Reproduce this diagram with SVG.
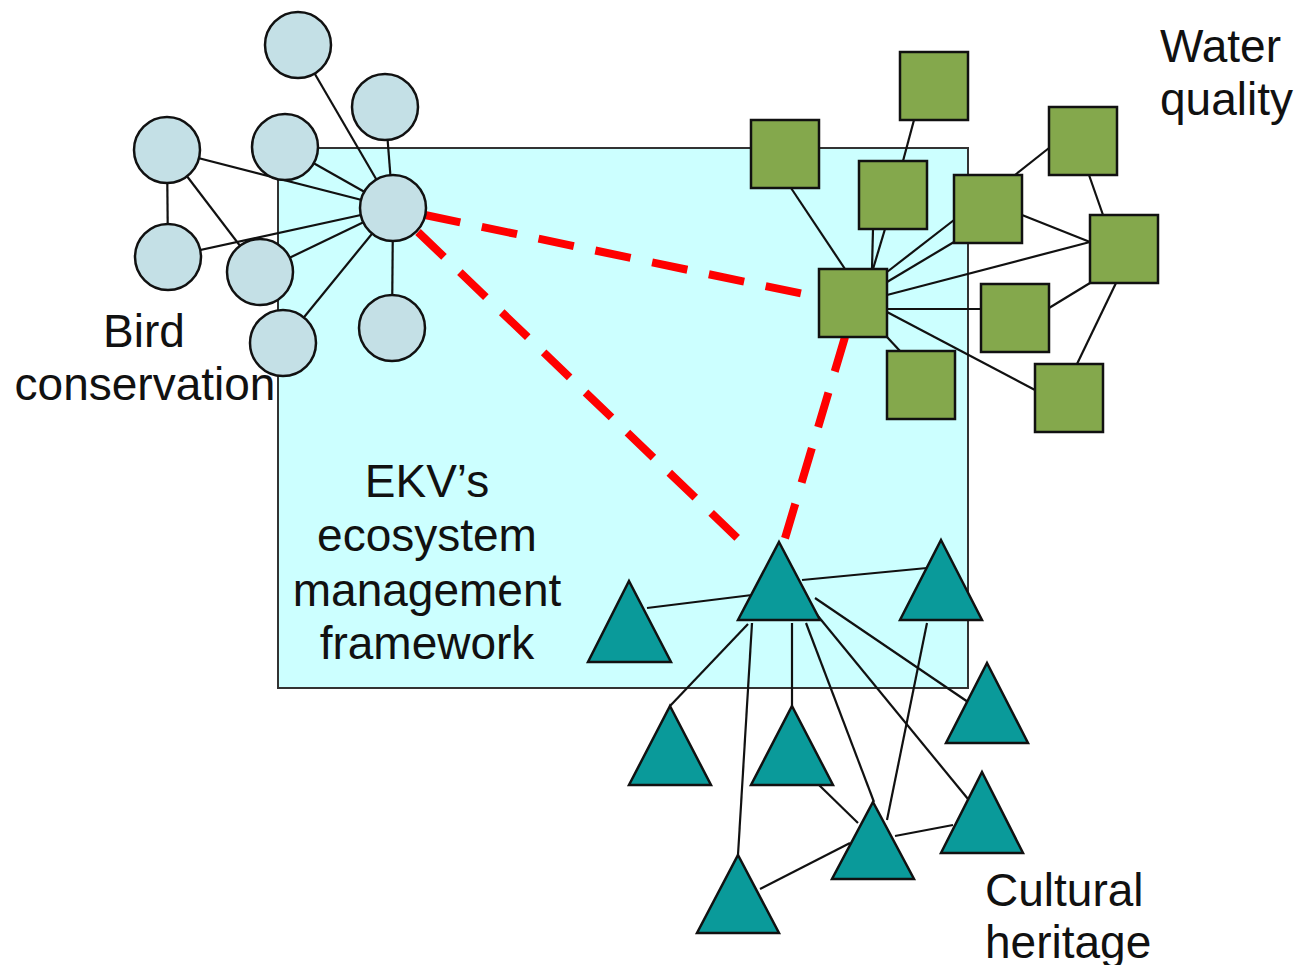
<svg xmlns="http://www.w3.org/2000/svg" width="1307" height="965" viewBox="0 0 1307 965">
<style>
.edge{stroke:#111;stroke-width:2.2;fill:none}
.dash{stroke:#ff0000;stroke-width:8;stroke-dasharray:36 22;fill:none}
.bird{fill:#c4e0e6;stroke:#111;stroke-width:2.5}
.water{fill:#84a84c;stroke:#111;stroke-width:2.5}
.cult{fill:#0a9a9a;stroke:#111;stroke-width:2.5}
.lbl{font-family:"Liberation Sans",Arial,sans-serif;font-size:46px;fill:#111}
</style>
<rect width="1307" height="965" fill="#ffffff"/>
<g id="framework">
<rect x="278" y="148" width="690" height="540" fill="#ccffff" stroke="#333" stroke-width="2"/>
<text class="lbl" text-anchor="middle" x="427" y="497">EKV’s</text>
<text class="lbl" text-anchor="middle" x="427" y="551">ecosystem</text>
<text class="lbl" text-anchor="middle" x="427" y="606">management</text>
<text class="lbl" text-anchor="middle" x="427" y="659">framework</text>
</g>
<g id="connectors">
<line class="edge" x1="298" y1="45" x2="393" y2="208"/>
<line class="edge" x1="385" y1="107" x2="393" y2="208"/>
<line class="edge" x1="167" y1="150" x2="393" y2="208"/>
<line class="edge" x1="285" y1="147" x2="393" y2="208"/>
<line class="edge" x1="167" y1="150" x2="168" y2="257"/>
<line class="edge" x1="167" y1="150" x2="260" y2="272"/>
<line class="edge" x1="168" y1="257" x2="393" y2="208"/>
<line class="edge" x1="260" y1="272" x2="393" y2="208"/>
<line class="edge" x1="283" y1="343" x2="393" y2="208"/>
<line class="edge" x1="392" y1="328" x2="393" y2="208"/>
<line class="edge" x1="791" y1="188" x2="845" y2="269"/>
<line class="edge" x1="914" y1="120" x2="903" y2="161"/>
<line class="edge" x1="873" y1="229" x2="872" y2="269"/>
<line class="edge" x1="885" y1="229" x2="873" y2="269"/>
<line class="edge" x1="954" y1="220" x2="887" y2="272"/>
<line class="edge" x1="954" y1="242" x2="887" y2="282"/>
<line class="edge" x1="1015" y1="175" x2="1049" y2="148"/>
<line class="edge" x1="1022" y1="215" x2="1090" y2="242"/>
<line class="edge" x1="1089" y1="175" x2="1103" y2="215"/>
<line class="edge" x1="887" y1="295" x2="1090" y2="242"/>
<line class="edge" x1="887" y1="309" x2="981" y2="309"/>
<line class="edge" x1="1049" y1="308" x2="1090" y2="283"/>
<line class="edge" x1="1116" y1="283" x2="1077" y2="364"/>
<line class="edge" x1="887" y1="337" x2="900" y2="351"/>
<line class="edge" x1="887" y1="312" x2="1035" y2="390"/>
<line class="edge" x1="647" y1="608" x2="752" y2="595"/>
<line class="edge" x1="802" y1="580" x2="927" y2="568"/>
<line class="edge" x1="748" y1="624" x2="670" y2="706"/>
<line class="edge" x1="752" y1="623" x2="738" y2="855"/>
<line class="edge" x1="792" y1="623" x2="792" y2="706"/>
<line class="edge" x1="806" y1="623" x2="874" y2="802"/>
<line class="edge" x1="813" y1="610" x2="968" y2="799"/>
<line class="edge" x1="815" y1="598" x2="968" y2="702"/>
<line class="edge" x1="927" y1="623" x2="887" y2="820"/>
<line class="edge" x1="819" y1="785" x2="858" y2="823"/>
<line class="edge" x1="895" y1="836" x2="953" y2="825"/>
<line class="edge" x1="760" y1="889" x2="850" y2="843"/>
<line class="dash" x1="425" y1="215" x2="818" y2="297"/>
<line class="dash" x1="418" y1="232" x2="752" y2="552"/>
<line class="dash" x1="845" y1="337" x2="783" y2="545"/>
</g>
<g id="bird-conservation">
<circle id="b1" class="bird" cx="298" cy="45" r="33"/>
<circle id="b2" class="bird" cx="385" cy="107" r="33"/>
<circle id="b3" class="bird" cx="167" cy="150" r="33"/>
<circle id="b4" class="bird" cx="285" cy="147" r="33"/>
<circle id="b5" class="bird" cx="393" cy="208" r="33"/>
<circle id="b6" class="bird" cx="168" cy="257" r="33"/>
<circle id="b7" class="bird" cx="260" cy="272" r="33"/>
<circle id="b8" class="bird" cx="283" cy="343" r="33"/>
<circle id="b9" class="bird" cx="392" cy="328" r="33"/>
<text class="lbl" text-anchor="middle" x="144" y="347">Bird</text>
<text class="lbl" text-anchor="middle" x="145" y="400">conservation</text>
</g>
<g id="water-quality">
<rect id="w1" class="water" x="751" y="120" width="68" height="68"/>
<rect id="w2" class="water" x="900" y="52" width="68" height="68"/>
<rect id="w3" class="water" x="859" y="161" width="68" height="68"/>
<rect id="w4" class="water" x="954" y="175" width="68" height="68"/>
<rect id="w5" class="water" x="1049" y="107" width="68" height="68"/>
<rect id="w6" class="water" x="1090" y="215" width="68" height="68"/>
<rect id="w7" class="water" x="819" y="269" width="68" height="68"/>
<rect id="w8" class="water" x="981" y="284" width="68" height="68"/>
<rect id="w9" class="water" x="887" y="351" width="68" height="68"/>
<rect id="w10" class="water" x="1035" y="364" width="68" height="68"/>
<text class="lbl" x="1160" y="62">Water</text>
<text class="lbl" x="1160" y="115">quality</text>
</g>
<g id="cultural-heritage">
<polygon id="t1" class="cult" points="629,581 671,662 588,662"/>
<polygon id="t2" class="cult" points="779,542 820,620 738,620"/>
<polygon id="t3" class="cult" points="941,540 982,620 900,620"/>
<polygon id="t4" class="cult" points="987,663 1028,743 946,743"/>
<polygon id="t5" class="cult" points="670,706 711,785 629,785"/>
<polygon id="t6" class="cult" points="792,706 833,785 751,785"/>
<polygon id="t7" class="cult" points="982,772 1023,853 941,853"/>
<polygon id="t8" class="cult" points="873,802 914,879 832,879"/>
<polygon id="t9" class="cult" points="738,855 779,933 697,933"/>
<text class="lbl" x="985" y="906">Cultural</text>
<text class="lbl" x="985" y="958">heritage</text>
</g>
</svg>
